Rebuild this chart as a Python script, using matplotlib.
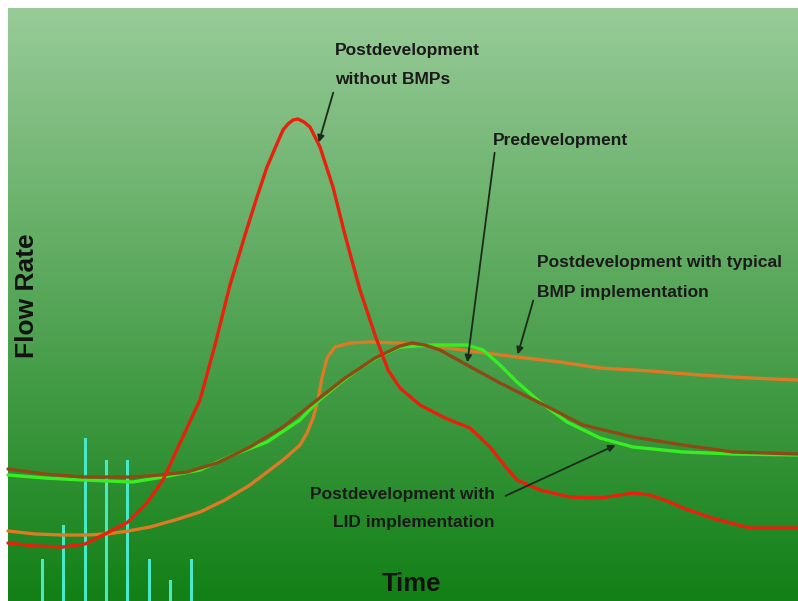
import numpy as np
import matplotlib
matplotlib.use("Agg")
import matplotlib.pyplot as plt

plt.rcParams['font.family'] = ['Liberation Sans', 'DejaVu Sans']

# hydrograph readings (time, flow) in picture units
t_red = [8, 35, 63, 85, 107, 128, 147, 163, 180, 200, 215, 230, 245, 257, 267, 276, 283, 288, 293, 298,
         304, 310, 320, 333, 345, 360, 375, 388, 400, 420, 445, 470, 490, 505, 517, 540, 570, 600, 620,
         633, 650, 667, 683, 715, 750, 798]
q_red = [58, 55, 54, 57, 68, 79, 98, 121, 158, 201, 256, 316, 366, 404, 434, 455, 471, 477, 481, 482,
         479, 474, 454, 414, 366, 311, 266, 231, 213, 196, 183, 173, 154, 135, 121, 111, 104, 103, 106,
         108, 106, 100, 93, 82, 73, 73]

t_pre = [8, 45, 83, 133, 160, 187, 217, 250, 283, 317, 345, 375, 400, 412, 425, 440, 467, 500, 550,
         583, 633, 683, 733, 798]
q_pre = [132, 127, 124, 124, 126, 129, 138, 154, 174, 201, 223, 243, 255, 258, 256, 251, 236, 218, 193,
         176, 164, 156, 149, 147]

t_lid = [8, 45, 83, 133, 163, 200, 233, 267, 300, 317, 340, 360, 380, 400, 433, 467, 483, 500, 517,
         540, 567, 600, 633, 683, 733, 798]
q_lid = [126, 123, 121, 119, 124, 131, 146, 159, 181, 199, 218, 233, 245, 254, 256, 256, 251, 236, 219,
         199, 179, 163, 154, 149, 147, 146]

t_bmp = [8, 35, 63, 85, 107, 128, 150, 175, 200, 225, 250, 283, 300, 307, 313, 318, 322, 327, 335, 350,
         370, 400, 433, 470, 517, 560, 600, 650, 700, 750, 798]
q_bmp = [70, 67, 66, 66, 67, 70, 74, 81, 89, 101, 116, 141, 156, 168, 183, 201, 223, 243, 254, 258,
         259, 258, 255, 250, 244, 239, 233, 230, 226, 223, 221]

# rainfall pulses
t_rain = [42, 63, 85, 106, 127, 149, 170, 191]
rain = [42, 76, 163, 141, 141, 42, 21, 42]

fig = plt.figure(figsize=(7.98, 6.01), dpi=100, facecolor='white')
ax = fig.add_axes([0, 0, 1, 1])
ax.set_xlim(0, 798)
ax.set_ylim(0, 601)
ax.axis('off')

# green gradient background
top = np.array([152, 203, 152]) / 255
bot = np.array([18, 128, 22]) / 255
f = np.linspace(0, 1, 256)[:, None]
grad = top * (1 - f) + bot * f
ax.imshow(grad[:, None, :].repeat(2, axis=1), extent=[8, 798, 0, 593], aspect='auto', zorder=0)

ax.bar(t_rain, rain, width=3, color='#48e8c8', zorder=1)

kw = dict(lw=2.4, solid_capstyle='round', solid_joinstyle='round', zorder=2)
ax.plot(t_bmp, q_bmp, color='#dc7a26', **kw)
ax.plot(t_lid, q_lid, color='#36ee22', **kw)
ax.plot(t_pre, q_pre, color='#8e4a16', **kw)
ax.plot(t_red, q_red, color='#e8200e', **kw)

tk = dict(fontsize=12.5, fontweight='bold', color='#1a1a1a', va='center', ha='left', zorder=4)
ax.text(335, 551, 'Postdevelopment', **tk)
ax.text(335, 521, 'without BMPs', **tk)
ax.text(493, 461, 'Predevelopment', **tk)
ax.text(537, 338, 'Postdevelopment with typical', **tk)
ax.text(537, 308, 'BMP implementation', **tk)
ax.text(310, 106, 'Postdevelopment with', **tk)
ax.text(333, 79, 'LID implementation', **tk)

ap = dict(arrowstyle='-|>', color='#1c2a1c', lw=1.3, mutation_scale=10)
ax.annotate('', xy=(318, 456), xytext=(334, 511), arrowprops=ap, zorder=3)
ax.annotate('', xy=(467, 236), xytext=(495, 451), arrowprops=ap, zorder=3)
ax.annotate('', xy=(517, 244), xytext=(534, 303), arrowprops=ap, zorder=3)
ax.annotate('', xy=(618, 157), xytext=(503, 104), arrowprops=ap, zorder=3)

ax.text(27, 305, 'Flow Rate', fontsize=19, fontweight='bold', color='#111111',
        rotation=90, ha='center', va='center')
ax.text(411, 17, 'Time', fontsize=18.5, fontweight='bold', color='#111111',
        ha='center', va='center')

fig.savefig('out.png', dpi=100, facecolor='white')
